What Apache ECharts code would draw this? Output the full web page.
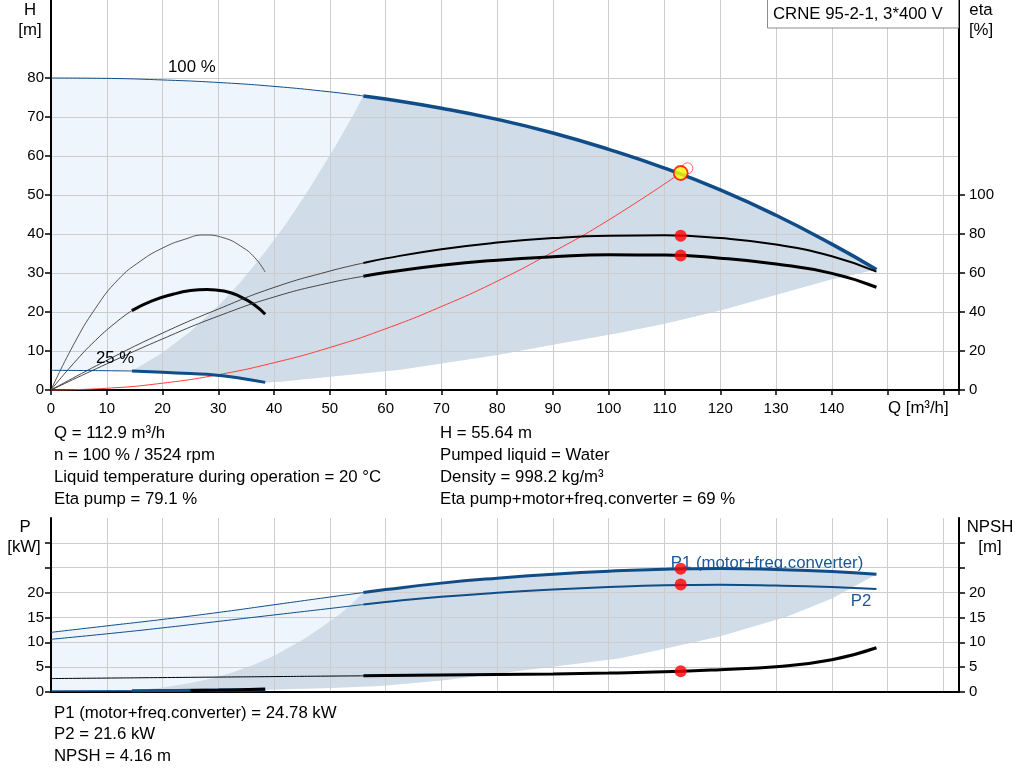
<!DOCTYPE html>
<html><head><meta charset="utf-8">
<script src="https://cdn.jsdelivr.net/npm/echarts@6/dist/echarts.min.js"></script>
<style>html,body{margin:0;padding:0;background:#fff}#c{width:1024px;height:781px}</style>
</head><body><div id="c"></div>
<script>
// ---------- data ----------
// Q/H curve at 100 % speed
const h100Q = [0,10,20,30,40,50,56,60,70,80,90,100,110,120,130,140,148];
const h100H = [80,79.9,79.5,78.85,77.85,76.45,75.4,74.6,72.25,69.4,65.9,61.7,56.9,51.3,44.8,37.4,30.9];
// Q/H curve at 25 % speed
const h25Q = [0,5,10,14.5,20,25,29.3,34,38.4];
const h25H = [5.05,5.0,4.95,4.87,4.55,4.2,3.85,3.0,1.95];
// max-flow boundary of operating range (H)
const hMaxQ = [38.4,41.1,45,50,55,59,62.6,70,80,90,102,110,120,132,140,144,148];
const hMaxH = [1.95,2.1,2.7,3.4,4.1,4.7,5.2,6.8,9.0,11.6,14.7,17.0,20.4,25.2,28.4,29.6,30.9];
// min-flow boundary of recommended range (H)
const hMinQ = [14.5,17,20.1,25,30.4,34,38.1,42,45.6,50.7,54.2,56];
const hMinH = [4.87,7,9.7,15,22.2,27.7,34.9,42.3,50,61.8,70.5,75.4];
// efficiency curves (eta %)
const eta100Q = [0,10,20,30,40,50,56,60,70,80,90,100,110,120,130,140,148];
const etaPump100 = [0,15.2,29.2,41.5,52.6,61.0,65.1,67.5,72.2,75.6,77.9,79.1,79.3,77.9,74.6,68.6,60.7];
const etaTot100 = [0,13.4,26.2,37.9,47.7,55.0,58.3,60.2,64.0,66.6,68.3,69.3,69.2,67.6,64.6,59.8,52.7];
const etaPump25Q = [0,4,8,12,16,20,24,27.4,31,34,36.5,38.4];
const etaPump25 = [0,23,42,56.5,66,72.8,77.3,79.5,78.0,73.8,68.0,60.5];
const etaTot25Q = [0,4,8,12,14.5,18,22,25,28,31,34,36.5,38.4];
const etaTot25 = [0,13.5,25.5,35.5,40.7,45.6,49.2,51.0,51.6,50.8,47.8,43.6,38.8];
// system curve through duty point
const sysQ = [0,10,20,30,40,50,60,70,80,90,100,112.9];
const sysH = [0,0.44,1.75,3.93,7.0,10.9,15.7,21.4,27.9,35.4,43.6,55.64];
// duty point
const dutyQ = 112.9, dutyH = 55.64, dutyEtaPump = 79.1, dutyEtaTot = 69;
const dutyP1 = 24.78, dutyP2 = 21.6, dutyNPSH = 4.16;
const refMarkQ = 114.1, refMarkH = 56.85;
// power / NPSH at 100 %
const p100Q = [0,10,20,30,40,50,56,60,70,80,90,100,110,120,130,140,148];
const p1_100 = [12.0,13.3,14.6,16.0,17.55,19.1,20.0,20.6,21.9,22.9,23.7,24.3,24.7,24.85,24.65,24.25,23.7];
const p2_100 = [10.6,11.7,12.9,14.2,15.5,16.8,17.6,18.1,19.15,19.95,20.6,21.1,21.45,21.55,21.4,21.1,20.7];
const npsh100 = [2.7,2.8,2.9,3.0,3.1,3.2,3.25,3.3,3.4,3.5,3.62,3.8,4.05,4.5,5.1,6.5,8.9];
// power / NPSH at 25 %
const p25Q = [0,7,14.5,20,25,30,34,38.4];
const p1_25 = [0.2,0.22,0.25,0.29,0.33,0.37,0.41,0.45];
const p2_25 = [0.18,0.2,0.22,0.25,0.28,0.31,0.34,0.37];
const npsh25 = [0.18,0.19,0.2,0.24,0.3,0.38,0.47,0.6];
// power boundaries
const pMaxQ = [38.4,45,50,59,70,80,90,102,110,120,132,140,144,148];
const pMaxP = [0.45,0.65,0.8,1.2,2.3,3.7,5.1,6.8,8.7,11.2,15.2,18.8,21.2,23.7];
const pMinQ = [14.5,20,25,28,32,36.3,40,45.3,48.5,51.7,54,56];
const pMinP = [0.25,0.9,1.8,2.5,3.7,5.45,7.3,10.6,13.0,15.6,17.8,20.0];
// tick labels
const xLabelMax = 140;
const hTicks = [0,10,20,30,40,50,60,70,80];
const etaTicks = [0,20,40,60,80,100];
const pTickMarks = [0,5,10,15,20,25,30];
const pTicks = [0,5,10,15,20];

// ---------- helpers ----------
const FONT = '"Liberation Sans", Arial, Helvetica, sans-serif';
const BLUE = '#0f4c88';
function zip(qs, vs){ return qs.map((q,i)=>[q, vs[i]]); }
function range(qs, vs, a, b){ return zip(qs,vs).filter(p=>p[0]>=a-1e-9 && p[0]<=b+1e-9); }
function rev(a){ return a.slice().reverse(); }
function line(data, xi, yi, color, width, z){
  return {type:'line', xAxisIndex:xi, yAxisIndex:yi, data:data, smooth:0.5, symbol:'none',
    showSymbol:false, silent:true, z:z||3, clip:false, lineStyle:{color:color, width:width, cap:'butt'}, animation:false};
}
function area(polyData, xi, yi, color){
  return {type:'custom', xAxisIndex:xi, yAxisIndex:yi, z:-1, silent:true, data:[[0,0]], clip:false,
    renderItem:function(params, api){
      return {type:'polygon', shape:{points: polyData.map(p=>api.coord(p))}, style:{fill:color}};
    }};
}

// polygons
const topLight = zip(h100Q,h100H).concat(rev(zip(hMaxQ,hMaxH)), rev(zip(h25Q,h25H)));
const topDark = range(h100Q,h100H,56,148).concat(rev(zip(hMaxQ,hMaxH)), rev(range(h25Q,h25H,14.5,38.4)), zip(hMinQ,hMinH));
const botLight = zip(p100Q,p1_100).concat(rev(zip(pMaxQ,pMaxP)), rev(zip(p25Q,p1_25)));
const botDark = range(p100Q,p1_100,56,148).concat(rev(zip(pMaxQ,pMaxP)), rev(range(p25Q,p1_25,14.5,38.4)), zip(pMinQ,pMinP));

const LIGHT = '#eef5fc', DARK = '#d0dce7';
const GRIDC = '#cdcdcd';

const chart = echarts.init(document.getElementById('c'), null, {renderer:'canvas'});
const AXL = {show:true, onZero:false, lineStyle:{color:'#000', width:2}};
const option = {
  animation:false,
  backgroundColor:'#fff',
  grid:[
    {left:51, right:65, top:0, height:390, containLabel:false},
    {left:51, right:65, top:518, height:174, containLabel:false}
  ],
  xAxis:[
    {type:'value', gridIndex:0, min:0, max:162.8, interval:10,
     axisLine:AXL,
     axisTick:{show:true, length:5, lineStyle:{color:'#000', width:1.5}},
     axisLabel:{color:'#000', fontSize:15, fontFamily:FONT, margin:11, hideOverlap:false,
       formatter:function(v){ return v <= xLabelMax ? String(v) : ''; }},
     splitLine:{show:true, lineStyle:{color:GRIDC, width:1}}},
    {type:'value', gridIndex:1, min:0, max:162.8, interval:10,
     axisLine:AXL, axisTick:{show:false}, axisLabel:{show:false},
     splitLine:{show:true, lineStyle:{color:GRIDC, width:1}}}
  ],
  yAxis:[
    {type:'value', gridIndex:0, position:'left', min:0, max:100, interval:10,
     axisLine:AXL,
     axisTick:{show:true, length:6, customValues:hTicks, lineStyle:{color:'#000', width:1.5}},
     axisLabel:{color:'#000', fontSize:15, fontFamily:FONT, margin:7, customValues:hTicks},
     splitLine:{show:true, lineStyle:{color:GRIDC, width:1}}},
    {type:'value', gridIndex:0, position:'right', min:0, max:200, interval:20,
     axisLine:AXL,
     axisTick:{show:true, length:6, customValues:etaTicks, lineStyle:{color:'#000', width:1.5}},
     axisLabel:{color:'#000', fontSize:15, fontFamily:FONT, margin:10, customValues:etaTicks},
     splitLine:{show:false}},
    {type:'value', gridIndex:1, position:'left', min:0, max:35, interval:5,
     axisLine:AXL,
     axisTick:{show:true, length:6, customValues:pTickMarks, lineStyle:{color:'#000', width:1.5}},
     axisLabel:{color:'#000', fontSize:15, fontFamily:FONT, margin:7, customValues:pTicks},
     splitLine:{show:true, lineStyle:{color:GRIDC, width:1}}},
    {type:'value', gridIndex:1, position:'right', min:0, max:35, interval:5,
     axisLine:AXL,
     axisTick:{show:true, length:6, customValues:pTickMarks, lineStyle:{color:'#000', width:1.5}},
     axisLabel:{color:'#000', fontSize:15, fontFamily:FONT, margin:10, customValues:pTicks},
     splitLine:{show:false}}
  ],
  series:[
    area(topLight,0,0,LIGHT),
    area(topDark,0,0,DARK),
    area(botLight,1,2,LIGHT),
    area(botDark,1,2,DARK),
    // red system curve
    line(zip(sysQ,sysH),0,0,'#ff3b3b',1,3),
    // H curves
    line(range(h100Q,h100H,0,56),0,0,BLUE,1,4),
    line(range(h100Q,h100H,56,148),0,0,BLUE,3.5,4),
    line(range(h25Q,h25H,0,14.5),0,0,BLUE,1,4),
    line(range(h25Q,h25H,14.5,38.4),0,0,BLUE,3,4),
    // eta curves
    line(zip(etaPump25Q,etaPump25),0,1,'#444',0.9,4),
    line(range(etaTot25Q,etaTot25,0,14.5),0,1,'#333',0.9,4),
    line(range(etaTot25Q,etaTot25,14.5,38.4),0,1,'#000',3,4),
    line(range(eta100Q,etaPump100,0,56),0,1,'#333',0.9,4),
    line(range(eta100Q,etaPump100,56,148),0,1,'#000',2,4),
    line(range(eta100Q,etaTot100,0,56),0,1,'#333',0.9,4),
    line(range(eta100Q,etaTot100,56,148),0,1,'#000',3,4),
    // duty point markers (top)
    {type:'scatter', xAxisIndex:0, yAxisIndex:0, data:[[refMarkQ,refMarkH]], symbol:'circle', symbolSize:11, silent:true, z:5,
     itemStyle:{color:'rgba(0,0,0,0)', borderColor:'#ff4040', borderWidth:1}},
    {type:'scatter', xAxisIndex:0, yAxisIndex:0, data:[[dutyQ,dutyH]], symbol:'circle', symbolSize:14, silent:true, z:6,
     itemStyle:{color:'#ffff00', borderColor:'#ff0000', borderWidth:1.8}},
    {type:'scatter', xAxisIndex:0, yAxisIndex:1, data:[[dutyQ,dutyEtaPump],[dutyQ,dutyEtaTot]], symbol:'circle', symbolSize:12, silent:true, z:6,
     itemStyle:{color:'#ff0000'}},
    // power curves
    line(range(p100Q,p1_100,0,56),1,2,BLUE,1,4),
    line(range(p100Q,p1_100,56,148),1,2,BLUE,3,4),
    line(range(p100Q,p2_100,0,56),1,2,BLUE,1,4),
    line(range(p100Q,p2_100,56,148),1,2,BLUE,2,4),
    line(range(p100Q,npsh100,0,56),1,3,'#000',1,4),
    line(range(p100Q,npsh100,56,148),1,3,'#000',3,4),
    line(range(p25Q,p1_25,0,14.5),1,2,BLUE,1,4),
    line(range(p25Q,p1_25,14.5,38.4),1,2,BLUE,3,4),
    line(range(p25Q,p2_25,0,14.5),1,2,BLUE,1,4),
    line(range(p25Q,p2_25,14.5,38.4),1,2,BLUE,2,4),
    line(range(p25Q,npsh25,25,38.4),1,3,'#000',3,4),
    {type:'scatter', xAxisIndex:1, yAxisIndex:2, data:[[dutyQ,dutyP1],[dutyQ,dutyP2]], symbol:'circle', symbolSize:12, silent:true, z:6,
     itemStyle:{color:'#ff0000'}},
    {type:'scatter', xAxisIndex:1, yAxisIndex:3, data:[[dutyQ,dutyNPSH]], symbol:'circle', symbolSize:12, silent:true, z:6,
     itemStyle:{color:'#ff0000'}}
  ],
  graphic:[]
};
const TS = 16.8;
function txt(s, x, y, align, color, size){
  return {type:'text', x:x, y:y, silent:true, z:100,
    style:{text:s, font:(size||TS)+'px '+FONT, fill:color||'#000', align:align||'left', verticalAlign:'middle',
      textAlign:align||'left', textVerticalAlign:'middle'}};
}
option.graphic = [
  {type:'rect', shape:{x:767.5, y:-1, width:191, height:29}, style:{fill:'#fff', stroke:'#8c8c8c', lineWidth:1}, z:99, silent:true},
  txt('CRNE 95-2-1, 3*400 V', 773, 14),
  txt('H', 30, 10, 'center'),
  txt('[m]', 30, 30, 'center'),
  txt('eta', 981, 10, 'center'),
  txt('[%]', 981, 30, 'center'),
  txt('Q [m³/h]', 888, 408),
  txt('100 %', 168, 67),
  txt('25 %', 96, 358),
  txt('Q = 112.9 m³/h', 54, 433),
  txt('n = 100 % / 3524 rpm', 54, 455),
  txt('Liquid temperature during operation = 20 °C', 54, 477),
  txt('Eta pump = 79.1 %', 54, 499),
  txt('H = 55.64 m', 440, 433),
  txt('Pumped liquid = Water', 440, 455),
  txt('Density = 998.2 kg/m³', 440, 477),
  txt('Eta pump+motor+freq.converter = 69 %', 440, 499),
  txt('P', 25, 527, 'center'),
  txt('[kW]', 24, 547, 'center'),
  txt('NPSH', 990, 527, 'center'),
  txt('[m]', 990, 547, 'center'),
  txt('P1 (motor+freq.converter)', 767, 563, 'center', '#1a5797'),
  txt('P2', 861, 601, 'center', '#1a5797'),
  txt('P1 (motor+freq.converter) = 24.78 kW', 54, 713),
  txt('P2 = 21.6 kW', 54, 734),
  txt('NPSH = 4.16 m', 54, 756)
];
chart.setOption(option);
</script>
</body></html>
